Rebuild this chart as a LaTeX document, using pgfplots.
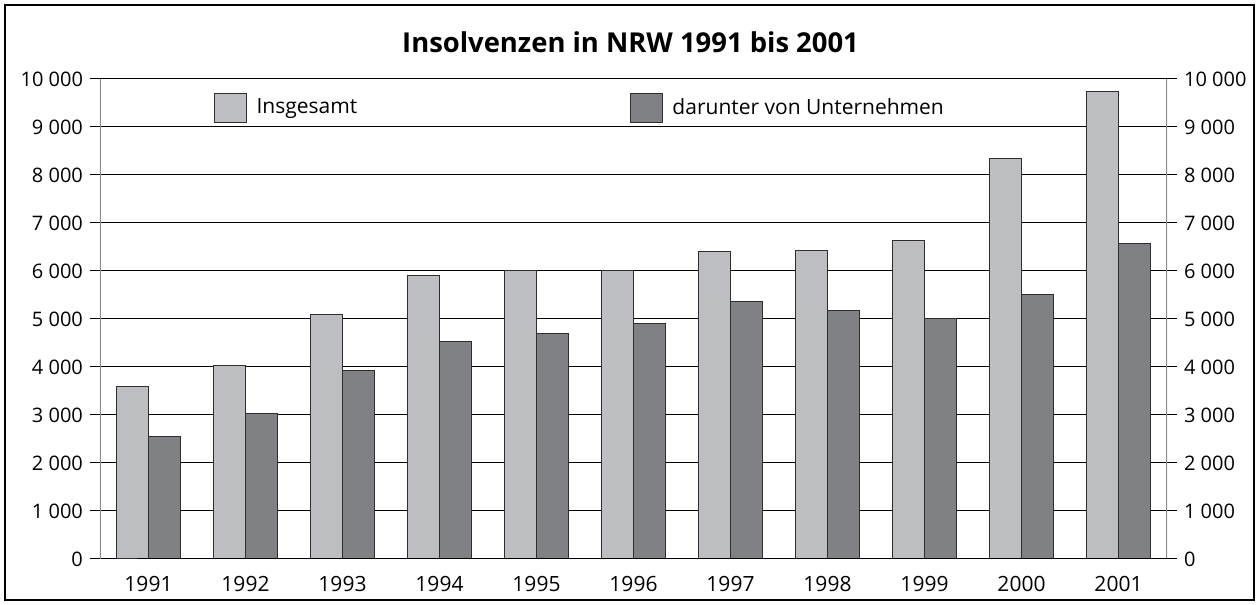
\documentclass[border=0pt]{standalone}
\usepackage{fontspec}
\setmainfont{Open Sans}
\usepackage{pgfplots}
\pgfplotsset{compat=1.18}
\definecolor{lightbar}{HTML}{BDBEC2}
\definecolor{darkbar}{HTML}{808185}
\definecolor{axgray}{HTML}{8C8C8C}
\definecolor{edgegray}{HTML}{2E2E2E}

\pgfplotstableread{
x total firms
0 3600 2560
1 4040 3040
2 5100 3920
3 5900 4540
4 6020 4690
5 6020 4900
6 6400 5370
7 6420 5180
8 6630 5020
9 8350 5520
10 9730 6580
}\datatable

\begin{document}
\begin{tikzpicture}
\pgfplotsset{
  common/.style={
    at={(0,0)}, anchor=south west,
    scale only axis, width=533.5pt, height=240pt,
    xmin=-0.5, xmax=10.5, ymin=0, ymax=10000,
    ytick={0,1000,...,10000},
    scaled y ticks=false,
    yticklabel style={/pgf/number format/fixed, /pgf/number format/precision=0,
      /pgf/number format/1000 sep={\ }, /pgf/number format/assume math mode=true,
      font=\fontsize{10}{12}\selectfont, text=black},
    xticklabel style={font=\fontsize{10.5}{12}\selectfont, text=black},
    tick align=outside, major tick length=5pt,
    y tick style={black, line width=0.5pt},
  }
}
\begin{axis}[
  common, name=main,
  ybar=0pt, bar width=16pt,
  xtick={0,...,10},
  xticklabels={1991,1992,1993,1994,1995,1996,1997,1998,1999,2000,2001},
  x tick style={draw=none},
  ytick pos=both, yticklabel pos=left,
  axis line style={draw=none},
  ymajorgrids, grid style={black, line width=0.5pt},
  legend columns=2,
  legend style={draw=none, fill=none, at={(0.106,0.94)}, anchor=west,
    font=\fontsize{10.5}{12}\selectfont, inner sep=0pt,
    /tikz/every odd column/.append style={column sep=0pt}},
  legend image code/.code={\draw[#1, line width=0.5pt] (0pt,-7.25pt) rectangle (16pt,7.25pt);},
]
\addplot[fill=lightbar, draw=edgegray, line width=0.5pt] table[x=x, y=total] {\datatable};
\addlegendentry{\makebox[187.5pt][l]{\hspace{3pt}Insgesamt}}
\addplot[fill=darkbar, draw=edgegray, line width=0.5pt] table[x=x, y=firms] {\datatable};
\addlegendentry{\hspace{3pt}darunter von Unternehmen}
\draw[axgray, line width=0.6pt] (rel axis cs:0,0) -- (rel axis cs:0,1);
\draw[axgray, line width=0.6pt] (rel axis cs:1,0) -- (rel axis cs:1,1);
\draw[black, line width=0.6pt] (rel axis cs:0,0) ++(-5pt,0) -- ([xshift=5pt]rel axis cs:1,0);
\end{axis}
\begin{axis}[
  common,
  xtick=\empty,
  ytick pos=right, yticklabel pos=right,
  y tick style={draw=none},
  axis line style={draw=none},
]
\end{axis}
\node[font=\bfseries\fontsize{13.7}{15}\selectfont] at ([yshift=18.5pt, xshift=-1.5pt]main.north) {Insolvenzen in NRW 1991 bis 2001};
\draw[line width=1.3pt] ([xshift=-47.5pt, yshift=-20.5pt]main.south west) rectangle ([xshift=43.5pt, yshift=37pt]main.north east);
\path ([xshift=-50pt,yshift=-23pt]main.south west) rectangle ([xshift=46.5pt,yshift=39.5pt]main.north east);
\end{tikzpicture}
\end{document}
